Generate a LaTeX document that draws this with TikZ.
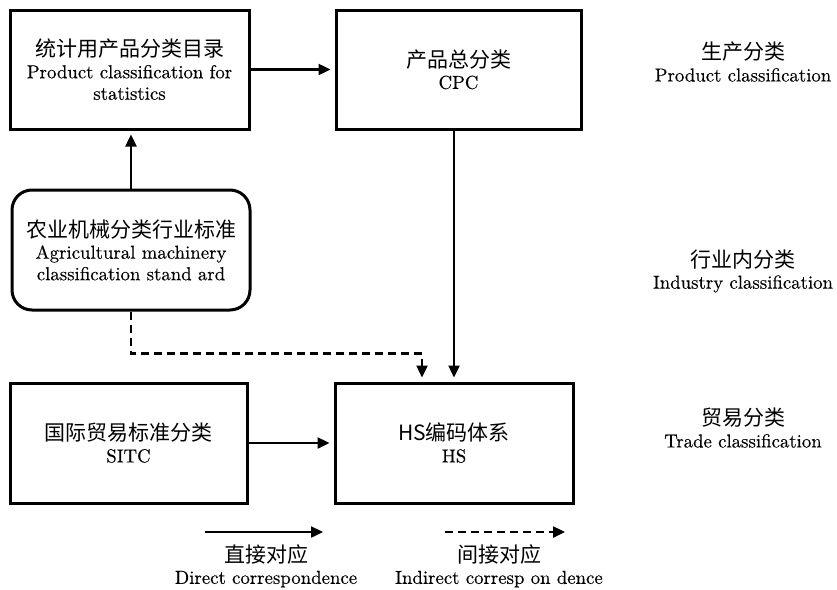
\documentclass[tikz,border=0pt]{standalone}
\usepackage{fontspec}
\setmainfont{lmroman10-regular.otf}[FakeBold=0.3]
\newfontfamily\cjk{Noto Sans CJK SC}
\usetikzlibrary{arrows.meta,positioning}
\tikzset{
  box/.style={draw, line width=3pt, align=center, inner sep=0pt},
  arr/.style={line width=2.4pt, -{Triangle[length=12pt,width=11pt]}},
  darr/.style={arr, dash pattern=on 8pt off 5pt},
  gap/.style={shorten >=4pt},
  lbl/.style={align=center, inner sep=0pt},
}
\newcommand{\zh}[1]{{\cjk\fontsize{21}{22}\selectfont #1}}
\begin{document}
\begin{tikzpicture}[x=1pt,y=-1pt,font=\fontsize{18.8}{21.5}\selectfont]
\useasboundingbox (0,0) rectangle (837,589);
\node[box, minimum width=239pt, minimum height=119pt] (A) at (129.5,69.5)
  {\zh{统计用产品分类目录}\\Product classification for\\statistics};
\node[box, minimum width=245pt, minimum height=119pt] (B) at (458.5,69.5)
  {\zh{产品总分类}\\CPC};
\node[box, rounded corners=20pt, minimum width=238pt, minimum height=120pt] (C) at (131,250)
  {\zh{农业机械分类行业标准}\\Agricultural machinery\\classification stand ard};
\node[box, minimum width=237pt, minimum height=120pt] (D) at (128.5,443)
  {\zh{国际贸易标准分类}\\SITC};
\node[box, minimum width=238pt, minimum height=120pt] (E) at (454,443)
  {\zh{HS编码体系}\\HS};

\draw[arr, gap] (A.east) -- (B.west);
\draw[arr, gap] (C.north) -- (C.north |- A.south);
\draw[arr, gap] (E.north |- B.south) -- (E.north);
\draw[darr, gap] (C.south) -- ++(0,42) -| ([xshift=-32pt]E.north);
\draw[arr, gap] (D.east) -- (E.west);

\node[lbl] (R1) at (743,62) {\zh{生产分类}\\Product classification};
\node[lbl] (R2) at (743,271) {\zh{行业内分类}\\Industry classification};
\node[lbl] (R3) at (743,428) {\zh{贸易分类}\\Trade classification};

\coordinate (L1s) at (205,532);
\coordinate (L1e) at (323,532);
\coordinate (L2s) at (445,532);
\coordinate (L2e) at (565,532);
\draw[arr] (L1s) -- (L1e);
\draw[darr] (L2s) -- (L2e);
\node[lbl] (T1) at (266,566) {\zh{直接对应}\\Direct correspondence};
\node[lbl] (T2) at (499,566) {\zh{间接对应}\\Indirect corresp on dence};
\end{tikzpicture}
\end{document}
